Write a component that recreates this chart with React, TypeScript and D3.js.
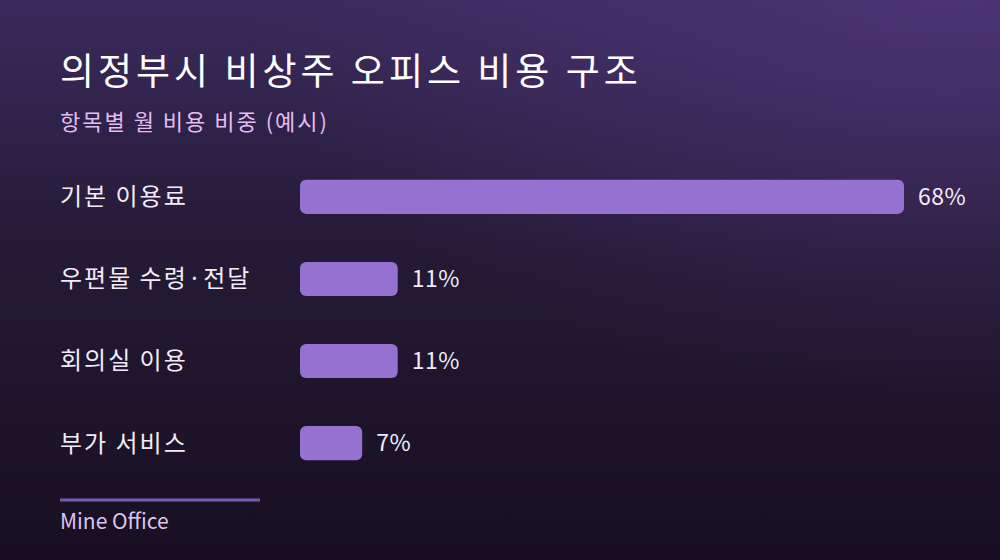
import { useEffect, useRef } from "react";
import * as d3 from "d3";

const categories = ["기본 이용료", "우편물 수령·전달", "회의실 이용", "부가 서비스"];
const shares = [68, 11, 11, 7];
const title = "의정부시 비상주 오피스 비용 구조";
const subtitle = "항목별 월 비용 비중 (예시)";
const source = "Mine Office";

const W = 1000;
const H = 560;
const FONT = "'Noto Sans CJK KR', 'Noto Sans', sans-serif";

export default function App ()
{
    const svgRef = useRef<SVGSVGElement>( null );

    useEffect( () =>
    {
        document.body.style.margin = "0";
        if ( !svgRef.current ) return;
        const svg = d3.select( svgRef.current );
        svg.selectAll( "*" ).remove();

        // Background
        const defs = svg.append( "defs" );
        const lin = defs.append( "linearGradient" ).attr( "id", "bg" ).attr( "x1", 0 ).attr( "y1", 0 ).attr( "x2", 0 ).attr( "y2", 1 );
        lin.append( "stop" ).attr( "offset", "0%" ).attr( "stop-color", "#3a2a5c" );
        lin.append( "stop" ).attr( "offset", "45%" ).attr( "stop-color", "#241a35" );
        lin.append( "stop" ).attr( "offset", "100%" ).attr( "stop-color", "#170f21" );
        const rad = defs.append( "radialGradient" ).attr( "id", "glow" )
            .attr( "cx", "95%" ).attr( "cy", "0%" ).attr( "r", "70%" );
        rad.append( "stop" ).attr( "offset", "0%" ).attr( "stop-color", "#5a3c88" ).attr( "stop-opacity", 0.55 );
        rad.append( "stop" ).attr( "offset", "100%" ).attr( "stop-color", "#5a3c88" ).attr( "stop-opacity", 0 );

        svg.append( "rect" ).attr( "width", W ).attr( "height", H ).attr( "fill", "url(#bg)" );
        svg.append( "rect" ).attr( "width", W ).attr( "height", H ).attr( "fill", "url(#glow)" );

        // Titles
        svg.append( "text" ).attr( "x", 60 ).attr( "y", 85 ).text( title )
            .attr( "fill", "#ffffff" ).style( "font-size", "37px" ).style( "font-weight", 400 )
            .style( "letter-spacing", "4px" ).style( "font-family", FONT );
        svg.append( "text" ).attr( "x", 60 ).attr( "y", 130 ).text( subtitle )
            .attr( "fill", "#e3bdf0" ).style( "font-size", "22px" ).style( "letter-spacing", "2px" ).style( "font-family", FONT );

        // Scales
        const x = d3.scaleLinear().domain( [ 0, 68 ] ).range( [ 300, 904 ] );
        const y = d3.scaleBand().domain( categories ).range( [ 156, 484 ] ).paddingInner( 0.585 ).paddingOuter( 0.29 );

        const g = svg.append( "g" );
        const rows = categories.map( ( c, i ) => ( { c, v: shares[ i ] } ) );

        g.selectAll( ".bar" ).data( rows ).join( "rect" )
            .attr( "x", x( 0 ) ).attr( "y", ( d ) => y( d.c )! )
            .attr( "width", ( d ) => x( d.v ) - x( 0 ) ).attr( "height", y.bandwidth() )
            .attr( "rx", 6 ).attr( "fill", "#9571d2" );

        g.selectAll( ".cat" ).data( rows ).join( "text" )
            .attr( "x", 60 ).attr( "y", ( d ) => y( d.c )! + y.bandwidth() / 2 )
            .attr( "dy", "0.35em" ).text( ( d ) => d.c )
            .attr( "fill", "#f2ecf8" ).style( "font-size", "24px" ).style( "letter-spacing", "2px" ).style( "font-family", FONT );

        g.selectAll( ".val" ).data( rows ).join( "text" )
            .attr( "x", ( d ) => x( d.v ) + 14 ).attr( "y", ( d ) => y( d.c )! + y.bandwidth() / 2 )
            .attr( "dy", "0.35em" ).text( ( d ) => `${ d.v }%` )
            .attr( "fill", "#f2ecf8" ).style( "font-size", "23px" ).style( "letter-spacing", "0.5px" ).style( "font-family", FONT );

        // Footer
        svg.append( "line" ).attr( "x1", 60 ).attr( "x2", 260 ).attr( "y1", 500 ).attr( "y2", 500 )
            .attr( "stroke", "#7a58ac" ).attr( "stroke-width", 3 );
        svg.append( "text" ).attr( "x", 60 ).attr( "y", 529 ).text( source )
            .attr( "fill", "#dcc4ee" ).style( "font-size", "21px" ).style( "font-family", FONT );
    }, [] );

    return (
        <div style={ { width: W, height: H } }>
            <svg ref={ svgRef } width={ W } height={ H } style={ { display: "block" } } />
        </div>
    );
}
